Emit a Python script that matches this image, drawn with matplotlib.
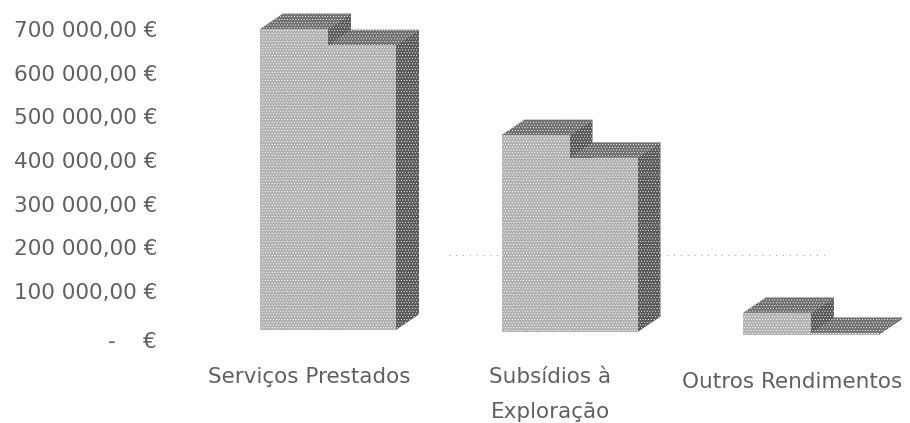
import matplotlib
matplotlib.use("Agg")
import matplotlib.pyplot as plt
from matplotlib.patches import Polygon
from matplotlib.transforms import ScaledTranslation

categories = ["Serviços Prestados", "Subsídios à\nExploração", "Outros Rendimentos"]
first_series = [700000, 457000, 50000]
second_series = [663000, 405000, 4000]
bar_floor = [11000, 6000, 0]  # the scanned page is slightly tilted
label_drop = [0, 0, 5]  # same tilt, in pixels
y_ticks = [0, 100000, 200000, 300000, 400000, 500000, 600000, 700000]
y_labels = ["-    €", "100 000,00 €", "200 000,00 €", "300 000,00 €",
            "400 000,00 €", "500 000,00 €", "600 000,00 €", "700 000,00 €"]

W, H = 910, 423
BAR_W = 68 / 241.5
DEPTH_X = 23 / 241.5
DEPTH_Y = 35500
FRONT, TOP, SIDE = "#b2b2b2", "#6f6f6f", "#585858"
TEXT = "#606060"


def draw_bar(ax, x0, floor, value):
    x1 = x0 + BAR_W
    top = [(x0, value), (x1, value), (x1 + DEPTH_X, value + DEPTH_Y), (x0 + DEPTH_X, value + DEPTH_Y)]
    side = [(x1, floor), (x1 + DEPTH_X, floor + DEPTH_Y), (x1 + DEPTH_X, value + DEPTH_Y), (x1, value)]
    front = [(x0, floor), (x1, floor), (x1, value), (x0, value)]
    for pts, col in ((top, TOP), (side, SIDE), (front, FRONT)):
        ax.add_patch(Polygon(pts, closed=True, facecolor=col, edgecolor="white", hatch="......", lw=0))


plt.rcParams["hatch.linewidth"] = 0.35
plt.rcParams["font.family"] = ["DejaVu Sans"]

fig = plt.figure(figsize=(W / 100, H / 100), dpi=100, facecolor="white")
ax = fig.add_axes([175 / W, (H - 350) / H, (W - 175) / W, 350 / H])
ax.set_xlim((175 - 328) / 241.5, (910 - 328) / 241.5)
ax.set_ylim((334.7 - 350) / 43.67 * 100000, 334.7 / 43.67 * 100000)

# what is left of a faded gridline on the scan
ax.plot([0.5, 2.08], [182000, 182000], color="#999999", lw=0.7, ls=(0, (1, 6)), zorder=0)

for i in range(len(categories)):
    draw_bar(ax, i - BAR_W, bar_floor[i], first_series[i])
    draw_bar(ax, i, bar_floor[i], second_series[i])

ax.set_yticks(y_ticks, y_labels)
ax.set_xticks([i - 19 / 241.5 for i in range(len(categories))], categories)
ax.tick_params(axis="y", length=0, pad=13, labelsize=15.5, labelcolor=TEXT)
ax.tick_params(axis="x", length=0, pad=12, labelsize=15.5, labelcolor=TEXT)
for lab, drop in zip(ax.get_xticklabels(), label_drop):
    lab.set_linespacing(1.95)
    lab.set_transform(lab.get_transform() + ScaledTranslation(0, -drop / 100, fig.dpi_scale_trans))
zero = ax.get_yticklabels()[0]
zero.set_transform(zero.get_transform() + ScaledTranslation(0, -5 / 100, fig.dpi_scale_trans))
for s in ax.spines.values():
    s.set_visible(False)

fig.savefig("out.png", dpi=100)
